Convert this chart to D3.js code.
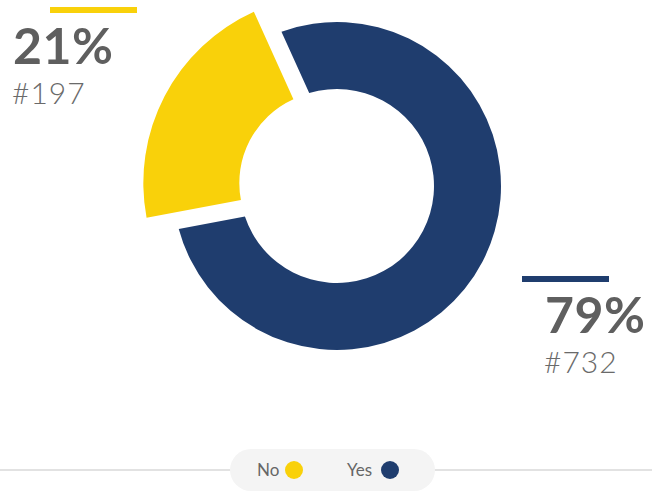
<!DOCTYPE html>
<html>
<head>
<meta charset="utf-8">
<script src="https://cdn.jsdelivr.net/npm/d3@7"></script>
<style>
  html, body { margin: 0; padding: 0; background: #ffffff; }
  svg { display: block; }
</style>
</head>
<body>
<svg id="chart" width="652" height="491"></svg>
<script>
// Survey answers
const categories = ["No", "Yes"];
const counts = [197, 732];
const colors = ["#f9d10a", "#1f3d6e"];

const W = 652, H = 491;
const cx = 337, cy = 186;
const svg = d3.select("#chart");

const total = d3.sum(counts);
const data = categories.map((c, i) => ({ name: c, value: counts[i], color: colors[i] }));

// Pie layout: the "No" slice sits in the upper-left quadrant
const start = (297.5 - (counts[0] / total) * 180) * Math.PI / 180;
const pie = d3.pie().value(d => d.value).sort(null)
  .startAngle(start).endAngle(start + 2 * Math.PI);
const arcs = pie(data);

// Regular ring and the highlighted (pulled-out, enlarged) slice
const ringArc = d3.arc().innerRadius(97).outerRadius(164)
  .padRadius(100).padAngle(0.26);
const activeArc = d3.arc().innerRadius(92).outerRadius(188);

const g = svg.append("g").attr("transform", `translate(${cx},${cy})`);

arcs.forEach(a => {
  if (a.data.name === "No") {
    const mid = (a.startAngle + a.endAngle) / 2;
    const shift = 6.4;
    g.append("path")
      .attr("d", activeArc(a))
      .attr("fill", a.data.color)
      .attr("transform", `translate(${shift * Math.sin(mid)},${-shift * Math.cos(mid)})`);
  } else {
    g.append("path")
      .attr("d", ringArc(a))
      .attr("fill", a.data.color);
  }
});

// Value labels
const pct = v => Math.round(v / total * 100) + "%";
const labelSpots = {
  No:  { barX: 50,  barY: 7,   textX: 13,  pctY: 64,  cntY: 104 },
  Yes: { barX: 522, barY: 276, textX: 545, pctY: 333, cntY: 373 }
};
data.forEach(d => {
  const s = labelSpots[d.name];
  svg.append("rect")
    .attr("x", s.barX).attr("y", s.barY)
    .attr("width", 87).attr("height", 6)
    .attr("fill", d.color);
  svg.append("text")
    .attr("x", s.textX).attr("y", s.pctY)
    .attr("font-family", "Lato, sans-serif")
    .attr("font-weight", 700)
    .attr("font-size", 50)
    .attr("letter-spacing", 0.5)
    .attr("fill", "#5f5f5f")
    .text(pct(d.value));
  svg.append("text")
    .attr("x", s.textX - 1).attr("y", s.cntY)
    .attr("font-family", "Lato, sans-serif")
    .attr("font-weight", 300)
    .attr("font-size", 30)
    .attr("letter-spacing", 1)
    .attr("fill", "#6a6a6a")
    .text("#" + d.value);
});

// Legend
const legY = 470;
svg.append("line")
  .attr("x1", 0).attr("x2", W)
  .attr("y1", legY).attr("y2", legY)
  .attr("stroke", "#e2e2e2").attr("stroke-width", 2);
svg.append("rect")
  .attr("x", 230).attr("y", 449)
  .attr("width", 205).attr("height", 42)
  .attr("rx", 21).attr("ry", 21)
  .attr("fill", "#f4f4f4");

const legendItems = [
  { name: "No",  textX: 257, dotX: 294 },
  { name: "Yes", textX: 347, dotX: 390 }
];
legendItems.forEach(it => {
  svg.append("text")
    .attr("x", it.textX).attr("y", legY + 6)
    .attr("font-family", "Lato, sans-serif")
    .attr("font-size", 17)
    .attr("fill", "#666666")
    .text(it.name);
  svg.append("circle")
    .attr("cx", it.dotX).attr("cy", legY)
    .attr("r", 9)
    .attr("fill", colors[categories.indexOf(it.name)]);
});
</script>
</body>
</html>
